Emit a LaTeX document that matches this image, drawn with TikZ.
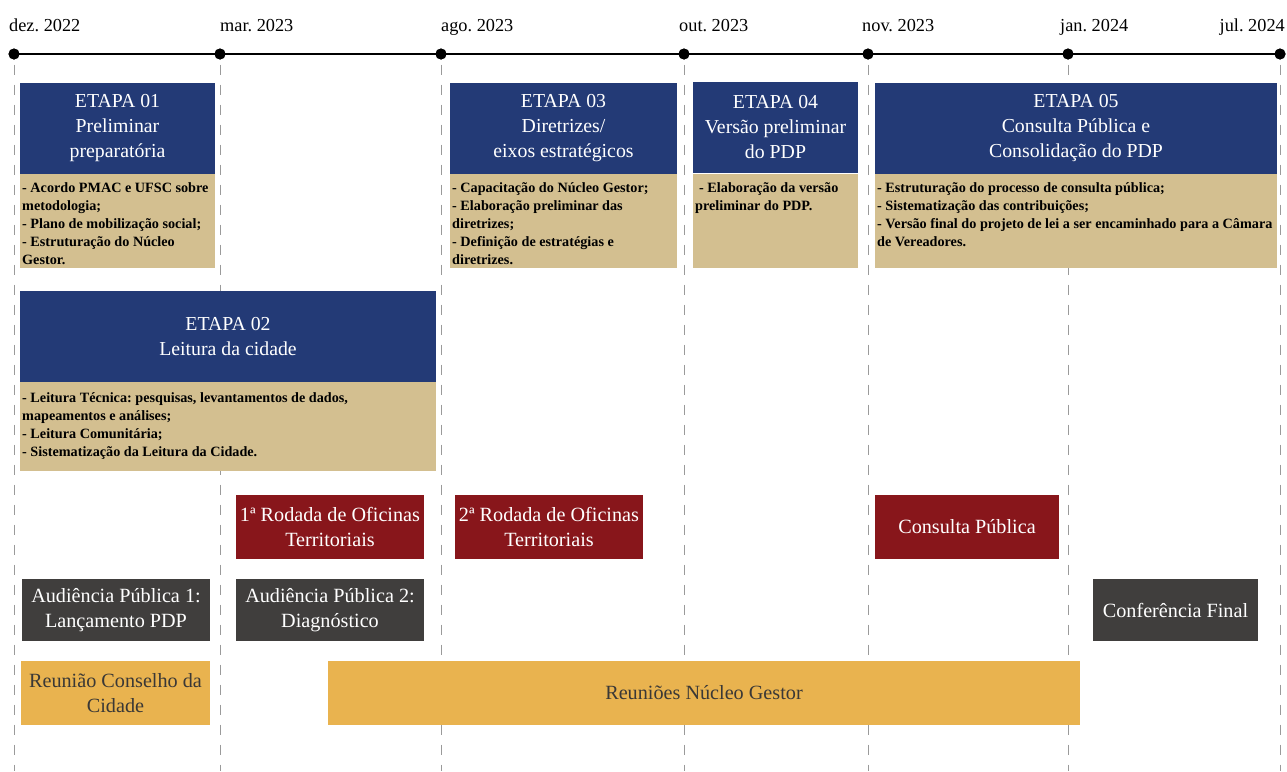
\documentclass[tikz,border=0pt]{standalone}
\usepackage{fontspec}
\setmainfont{Liberation Serif}
\frenchspacing
\definecolor{etblue}{HTML}{233A76}
\definecolor{ettan}{HTML}{D3BF90}
\definecolor{etred}{HTML}{88161B}
\definecolor{etgrey}{HTML}{403E3D}
\definecolor{etyellow}{HTML}{E9B34F}
\definecolor{ettext}{HTML}{3A3836}
\definecolor{etdash}{HTML}{9A9A9A}
\begin{document}
\begin{tikzpicture}[x=1pt,y=-1pt,
  hdr/.style={fill=etblue, text=white, align=center, inner sep=0,
    font=\fontsize{19.8}{25}\selectfont},
  tanbox/.style={fill=ettan, inner sep=0},
  tantext/.style={anchor=north west, align=left, inner sep=0, text=black,
    font=\bfseries\fontsize{14.2}{18}\selectfont},
  redbox/.style={fill=etred, text=white, align=center, inner sep=0,
    font=\fontsize{20.2}{25}\selectfont},
  greybox/.style={fill=etgrey, text=white, align=center, inner sep=0,
    font=\fontsize{20.2}{25}\selectfont},
  yelbox/.style={fill=etyellow, text=ettext, align=center, inner sep=0,
    font=\fontsize{20.2}{25}\selectfont},
  tdot/.style={circle, fill=black, inner sep=0, minimum size=11},
  vdash/.style={draw=etdash, line width=0.8, dash pattern=on 10 off 10},
  datelbl/.style={inner sep=0, font=\fontsize{18.3}{20}\selectfont}
]
\useasboundingbox (0,0) rectangle (1287,771);

% timeline dots
\node[tdot] (d1) at (14,54) {};
\node[tdot] (d2) at (220,54) {};
\node[tdot] (d3) at (441,54) {};
\node[tdot] (d4) at (684,54) {};
\node[tdot] (d5) at (868,54) {};
\node[tdot] (d6) at (1068,54) {};
\node[tdot] (d7) at (1280,54) {};

\coordinate (b1) at (14,771);
\coordinate (b2) at (220,771);
\coordinate (b3) at (441,771);
\coordinate (b4) at (684,771);
\coordinate (b5) at (868,771);
\coordinate (b6) at (1068,771);
\coordinate (b7) at (1280,771);

\foreach \i in {1,...,7} {
  \draw[vdash] ([yshift=-5]d\i.south) -- (b\i);
}
\draw[line width=1.6] (d1.center) -- (d7.center);
\foreach \i in {1,...,7} { \fill (d\i) circle (5.5); }

% date labels
\node[datelbl, anchor=base west] (l1) at (9,31) {dez. 2022};
\node[datelbl, anchor=base west] (l2) at (220,31) {mar. 2023};
\node[datelbl, anchor=base west] (l3) at (441,31) {ago. 2023};
\node[datelbl, anchor=base west] (l4) at (679,31) {out. 2023};
\node[datelbl, anchor=base west] (l5) at (862,31) {nov. 2023};
\node[datelbl, anchor=base west] (l6) at (1060,31) {jan. 2024};
\node[datelbl, anchor=base east] (l7) at (1285,31) {jul. 2024};

% ETAPA 01
\node[hdr, minimum width=195, minimum height=91] (e1h) at (117.5,128.5) {ETAPA 01\\Preliminar\\preparatória};
\node[tanbox, minimum width=195, minimum height=94] (e1b) at (117.5,221) {};
\node[tantext] (e1t) at (22,182) {- Acordo PMAC e UFSC sobre\\metodologia;\\- Plano de mobilização social;\\- Estruturação do Núcleo\\Gestor.};

% ETAPA 03
\node[hdr, minimum width=227, minimum height=91] (e3h) at (563.5,128.5) {ETAPA 03\\Diretrizes/\\eixos estratégicos};
\node[tanbox, minimum width=227, minimum height=94] (e3b) at (563.5,221) {};
\node[tantext] (e3t) at (452,182) {- Capacitação do Núcleo Gestor;\\- Elaboração preliminar das\\diretrizes;\\- Definição de estratégias e\\diretrizes.};

% ETAPA 04
\node[hdr, minimum width=165, minimum height=91] (e4h) at (775.5,127) {ETAPA 04\\Versão preliminar\\do PDP};
\node[tanbox, minimum width=165, minimum height=94] (e4b) at (775.5,221) {};
\node[tantext] (e4t) at (695,182) {\hspace{4pt}- Elaboração da versão\\preliminar do PDP.};

% ETAPA 05
\node[hdr, minimum width=402, minimum height=91] (e5h) at (1076,128.5) {ETAPA 05\\Consulta Pública e\\Consolidação do PDP};
\node[tanbox, minimum width=402, minimum height=94] (e5b) at (1076,221) {};
\node[tantext] (e5t) at (877,182) {- Estruturação do processo de consulta pública;\\- Sistematização das contribuições;\\- Versão final do projeto de lei a ser encaminhado para a Câmara\\de Vereadores.};

% ETAPA 02
\node[hdr, minimum width=416, minimum height=91] (e2h) at (228,336.5) {ETAPA 02\\Leitura da cidade};
\node[tanbox, minimum width=416, minimum height=89] (e2b) at (228,426.5) {};
\node[tantext] (e2t) at (22,392) {- Leitura Técnica: pesquisas, levantamentos de dados,\\mapeamentos e análises;\\- Leitura Comunitária;\\- Sistematização da Leitura da Cidade.};

% red boxes
\node[redbox, minimum width=188, minimum height=64] (r1) at (330,527) {1ª Rodada de Oficinas\\Territoriais};
\node[redbox, minimum width=188, minimum height=64] (r2) at (549,527) {2ª Rodada de Oficinas\\Territoriais};
\node[redbox, minimum width=184, minimum height=64] (r3) at (967,527) {Consulta Pública};

% grey boxes
\node[greybox, minimum width=188, minimum height=62] (g1) at (116,610) {Audiência Pública 1:\\Lançamento PDP};
\node[greybox, minimum width=188, minimum height=62] (g2) at (330,610) {Audiência Pública 2:\\Diagnóstico};
\node[greybox, minimum width=165, minimum height=62] (g3) at (1175.5,610) {Conferência Final};

% yellow boxes
\node[yelbox, minimum width=189, minimum height=64] (y1) at (115.5,693) {Reunião Conselho da\\Cidade};
\node[yelbox, minimum width=752, minimum height=64] (y2) at (704,693) {Reuniões Núcleo Gestor};
\end{tikzpicture}
\end{document}
